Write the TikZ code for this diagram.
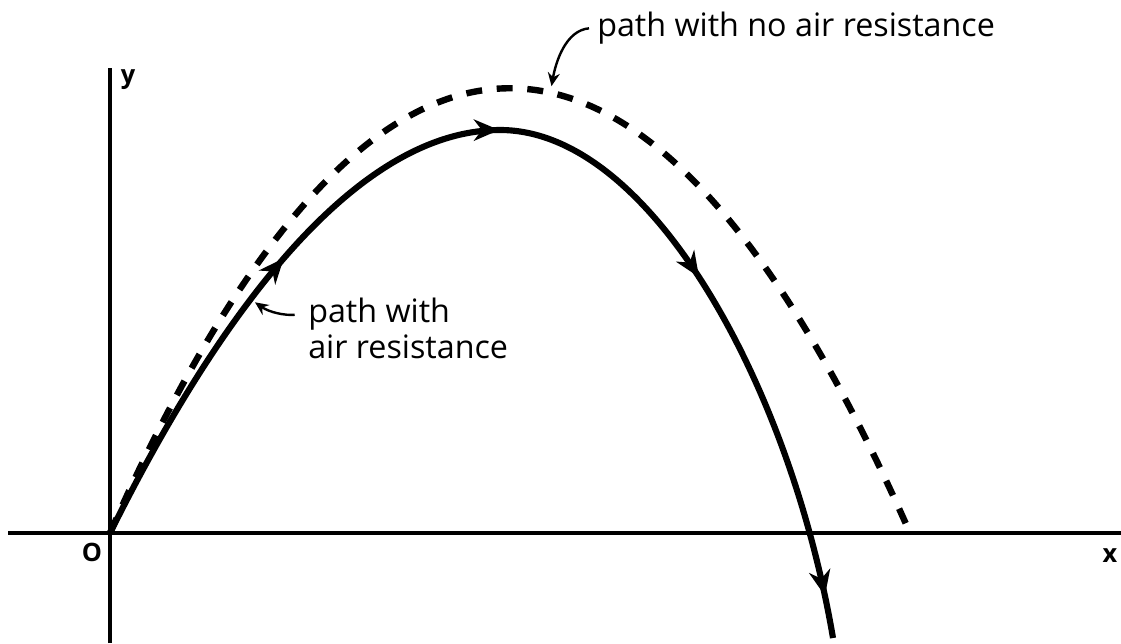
\documentclass[tikz,border=0pt]{standalone}
\usepackage{fontspec}
\setmainfont{Open Sans}
\usetikzlibrary{
    arrows.meta,
    decorations.markings,
    positioning
}
\tikzstyle{axis} = [
    line width=2.8pt
]
\tikzstyle{nodrag} = [
    line width=4.8pt,
    dash pattern=on 12pt off 11pt
]
\tikzstyle{drag} = [
    line width=4.6pt,
    postaction={decorate},
    decoration={markings,
        mark=at position 0.265 with {\arrow{Stealth[length=19pt,width=16pt,inset=6pt]}},
        mark=at position 0.475 with {\arrow{Stealth[length=19pt,width=16pt,inset=6pt]}},
        mark=at position 0.685 with {\arrow{Stealth[length=19pt,width=16pt,inset=6pt]}},
        mark=at position 0.965 with {\arrow{Stealth[length=19pt,width=16pt,inset=6pt]}}}
]
\tikzstyle{pointer} = [
    -{Stealth[length=10pt,width=9pt]},
    line width=1.8pt
]
\tikzstyle{note} = [
    inner sep=0pt,
    font=\fontsize{24.2}{27}\selectfont
]
\tikzstyle{axlabel} = [
    inner sep=0pt,
    font=\fontsize{19}{21}\selectfont\bfseries
]

\begin{document}
\begin{tikzpicture}[x=0.75pt, y=-0.75pt]
        \useasboundingbox (0,0) rectangle (1121,643);

        % Axes
        \coordinate (O) at (110,533);
        \coordinate (xleft) at (8,533);
        \coordinate (xright) at (1121,533);
        \coordinate (ytop) at (110,68);
        \coordinate (ybot) at (110,643);
        \draw[axis] (xleft) -- (xright);
        \draw[axis] (ybot) -- (ytop);
        \node[axlabel] (ylab) at (128,80) {y};
        \node[axlabel] (olab) at (92,552) {O};
        \node[axlabel] (xlab) at (1110,556) {x};

        % Path with no air resistance
        \draw[nodrag] (O) .. controls (372,-60) and (648,-60) .. coordinate[pos=0.55] (peak) (910,533);

        % Path with air resistance
        \draw[drag] (O) .. controls (245,262) and (378,130) .. coordinate[pos=0.35] (hit) (500,130)
            .. controls (650,130) and (790,385) .. (833,638);

        % Labels
        \node[note, anchor=base west] (nofric) at (597,36) {path with no air resistance};
        \node[note, anchor=base west] (fric) at (308,322) {path with};
        \node[note, below=27pt of fric.base west, anchor=base west] (fric2) {air resistance};

        % Pointers
        \draw[pointer, shorten <=6pt, shorten >=5pt] (nofric.west) to[out=185, in=80] (peak);
        \draw[pointer, shorten <=10pt, shorten >=4pt] (fric.west) to[out=185, in=-35] (hit);
    \end{tikzpicture}
\end{document}
